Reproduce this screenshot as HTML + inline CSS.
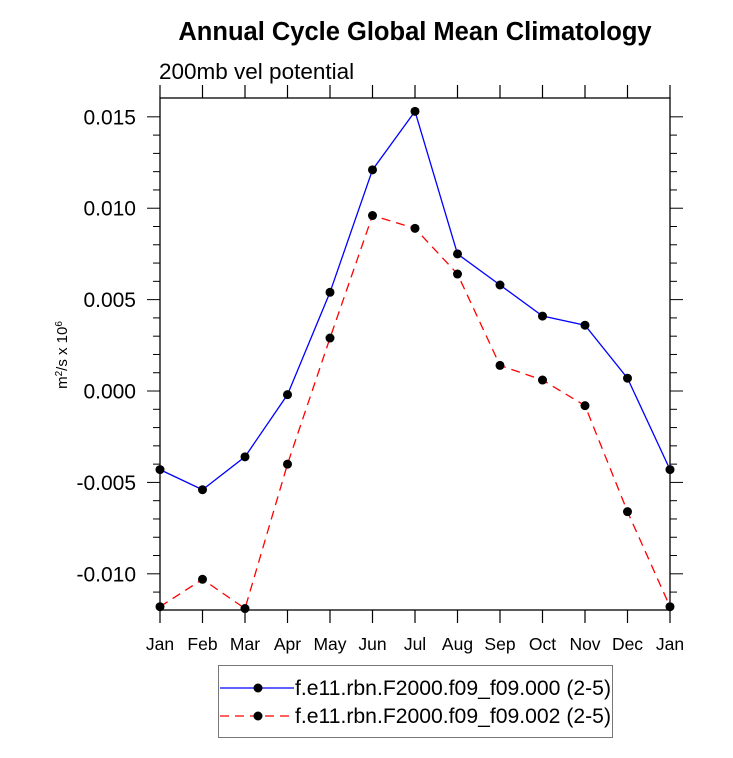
<!DOCTYPE html>
<html><head><meta charset="utf-8"><style>
html,body{margin:0;padding:0;background:#fff}
svg{display:block;font-family:"Liberation Sans",Arial,sans-serif}
</style></head><body>
<svg id="chart" width="733" height="758">
<text x="415" y="40" text-anchor="middle" font-size="25.5" font-weight="bold">Annual Cycle Global Mean Climatology</text>
<text x="159" y="79" font-size="22.5">200mb vel potential</text>
<g id="axes"></g>
<g id="series"></g>
<g>
<rect x="218.5" y="665.5" width="394" height="72" fill="#fff" stroke="#777"/>
<g>
<line x1="220" y1="688" x2="294" y2="688" stroke="#0000ff" stroke-width="1.3"/>
<circle cx="258" cy="688" r="4.5" fill="#000"/>
<text x="295" y="695" font-size="21" textLength="316" lengthAdjust="spacingAndGlyphs">f.e11.rbn.F2000.f09_f09.000 (2-5)</text>
</g>
<g>
<line x1="220" y1="716" x2="294" y2="716" stroke="#ff0000" stroke-width="1.3" stroke-dasharray="9,6"/>
<circle cx="258" cy="716" r="4.5" fill="#000"/>
<text x="295" y="723" font-size="21" textLength="316" lengthAdjust="spacingAndGlyphs">f.e11.rbn.F2000.f09_f09.002 (2-5)</text>
</g>
</g>
</svg>
<script>
const months = ["Jan","Feb","Mar","Apr","May","Jun","Jul","Aug","Sep","Oct","Nov","Dec","Jan"];
const series000 = [-0.0043,-0.0054,-0.0036,-0.0002,0.0054,0.0121,0.0153,0.0075,0.0058,0.0041,0.0036,0.0007,-0.0043];
const series002 = [-0.0118,-0.0103,-0.0119,-0.0040,0.0029,0.0096,0.0089,0.0064,0.0014,0.0006,-0.0008,-0.0066,-0.0118];
const yTicks = [-0.010,-0.005,0.000,0.005,0.010,0.015];
const yTickLabels = ["-0.010","-0.005","0.000","0.005","0.010","0.015"];
const yMin = -0.01198, yMax = 0.01603;
const L=160,R=670,T=98,B=610;
const NS="http://www.w3.org/2000/svg";
function xs(i){return L+(R-L)*i/(months.length-1);}
function ys(v){return B-(v-yMin)/(yMax-yMin)*(B-T);}
function mk(tag,attrs,parent){const e=document.createElementNS(NS,tag);for(const k in attrs)e.setAttribute(k,attrs[k]);parent.appendChild(e);return e;}
const ax=document.getElementById('axes');
const frame=mk('rect',{x:L,y:T,width:R-L,height:B-T,fill:'none',stroke:'#000','stroke-width':1.3},ax);


months.forEach((m,i)=>{
  const x=xs(i);
  mk('line',{x1:x,y1:B,x2:x,y2:B+13,stroke:'#000','stroke-width':1.2},ax);
  mk('line',{x1:x,y1:T,x2:x,y2:T-13,stroke:'#000','stroke-width':1.2},ax);
  const t=mk('text',{x:x,y:B+40,'text-anchor':'middle','font-size':17.5},ax);
  t.textContent=m;
  
  
});
for(let v=-0.011;v<=0.016;v+=0.001){
  const y=ys(v); if(y<T-0.5||y>B+0.5)continue;
  const major=Math.abs(Math.round(v*1000)%5)===0;
  const len=major?13:7;
  mk('line',{x1:L,y1:y,x2:L-len,y2:y,stroke:'#000','stroke-width':1},ax);
  mk('line',{x1:R,y1:y,x2:R+len,y2:y,stroke:'#000','stroke-width':1},ax);
}
yTicks.forEach((v,i)=>{
  const t=mk('text',{x:136,y:ys(v)+7.5,'text-anchor':'end','font-size':21},ax);
  t.textContent=yTickLabels[i];
  
  
});
const yt=mk('text',{transform:'translate(67,355) rotate(-90)','text-anchor':'middle','font-size':15},ax);
yt.innerHTML='m<tspan dy="-5" font-size="10">2</tspan><tspan dy="5">/s x 10</tspan><tspan dy="-5" font-size="10">6</tspan>';


const sg=document.getElementById('series');
function draw(vals,color,dash,name){
  const g=mk('g',{},sg);
  
  
  const pts=vals.map((v,i)=>xs(i)+','+ys(v)).join(' ');
  const a={points:pts,fill:'none',stroke:color,'stroke-width':1.3};
  if(dash)a['stroke-dasharray']=dash;
  mk('polyline',a,g);
  vals.forEach((v,i)=>{
    const c=mk('circle',{cx:xs(i),cy:ys(v),r:4.5,fill:'#000'},g);
    
    
  });
}
draw(series000,'#0000ff',null,'series-000');
draw(series002,'#ff0000','9,6','series-002');
</script>
</body></html>
